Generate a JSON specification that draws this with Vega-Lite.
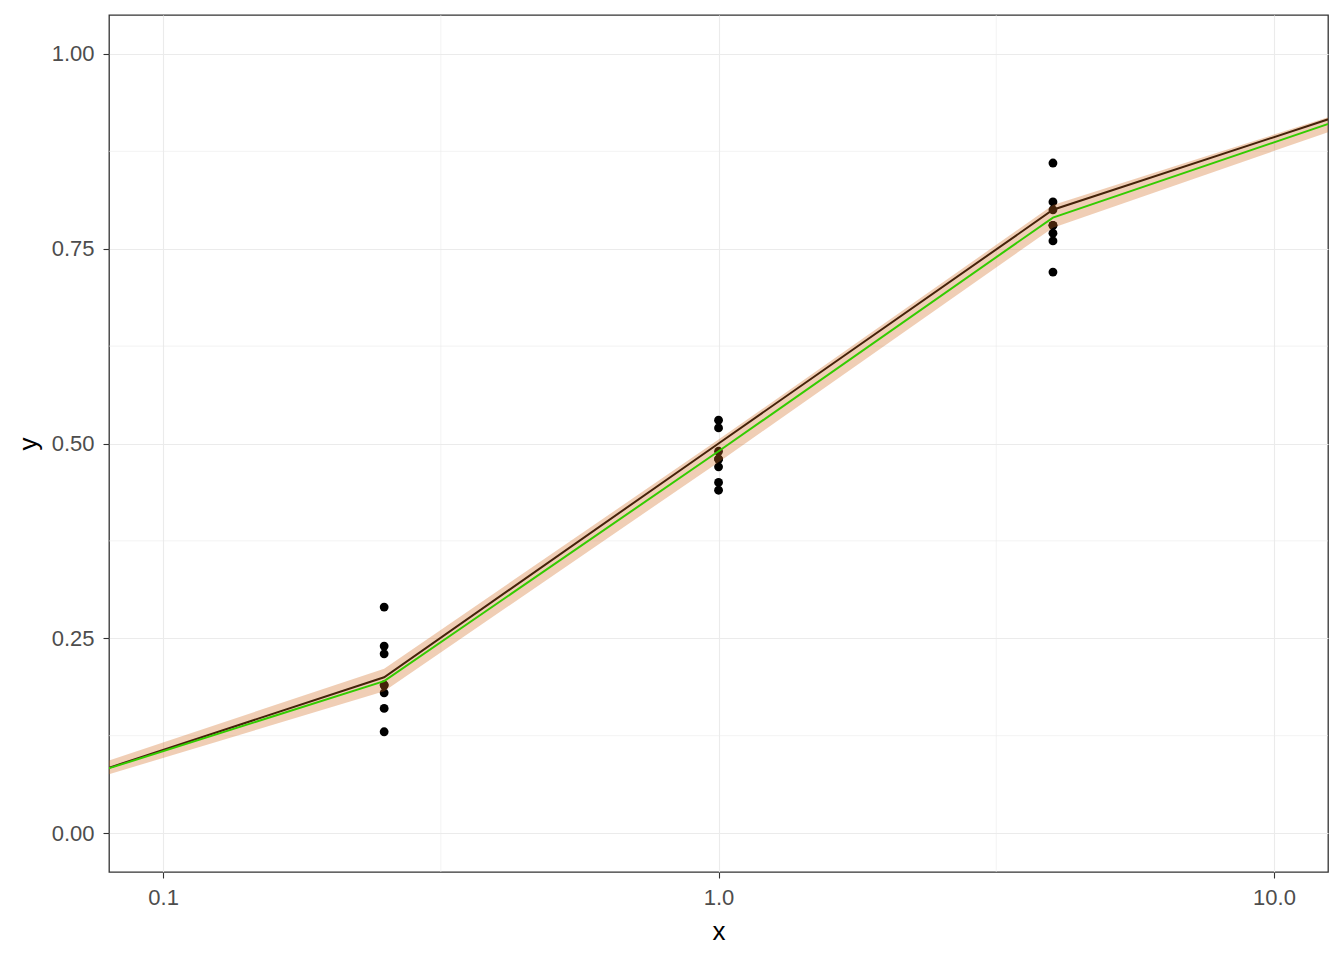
{
  "$schema": "https://vega.github.io/schema/vega-lite/v6.json",
  "width": 1219,
  "height": 857,
  "autosize": {"type": "none"},
  "padding": {"left": 109, "top": 15, "right": 16, "bottom": 88},
  "background": "white",
  "config": {
    "font": "Liberation Sans",
    "view": {"stroke": "#333333", "strokeWidth": 1.3},
    "axis": {
      "domain": false,
      "grid": true,
      "gridColor": "#EBEBEB",
      "gridWidth": 1.1,
      "tickColor": "#333333",
      "tickSize": 6,
      "tickWidth": 1.1,
      "labelColor": "#4D4D4D",
      "labelFontSize": 22,
      "labelFont": "Liberation Sans",
      "titleFont": "Liberation Sans",
      "titleFontSize": 26,
      "titleFontWeight": "normal",
      "titleColor": "black",
      "labelPadding": 9
    }
  },
  "datasets": {
    "pts": [
      {"x": 0.25, "y": 0.29}, {"x": 0.25, "y": 0.24}, {"x": 0.25, "y": 0.23}, {"x": 0.25, "y": 0.19},
      {"x": 0.25, "y": 0.19}, {"x": 0.25, "y": 0.18}, {"x": 0.25, "y": 0.16}, {"x": 0.25, "y": 0.13},
      {"x": 1, "y": 0.53}, {"x": 1, "y": 0.52}, {"x": 1, "y": 0.49}, {"x": 1, "y": 0.48},
      {"x": 1, "y": 0.47}, {"x": 1, "y": 0.45}, {"x": 1, "y": 0.44}, {"x": 1, "y": 0.48},
      {"x": 4, "y": 0.86}, {"x": 4, "y": 0.81}, {"x": 4, "y": 0.80}, {"x": 4, "y": 0.78},
      {"x": 4, "y": 0.77}, {"x": 4, "y": 0.76}, {"x": 4, "y": 0.72}, {"x": 4, "y": 0.78}
    ],
    "curve": [
      {"x": 0.0625, "black": 0.0588, "green": 0.059, "lo": 0.0525, "hi": 0.0678},
      {"x": 0.25, "black": 0.2, "green": 0.195, "lo": 0.182, "hi": 0.211},
      {"x": 1, "black": 0.5, "green": 0.49, "lo": 0.476, "hi": 0.505},
      {"x": 4, "black": 0.8, "green": 0.79, "lo": 0.777, "hi": 0.806},
      {"x": 16, "black": 0.941, "green": 0.936, "lo": 0.926, "hi": 0.943}
    ],
    "xminor": [{"v": 0.3162}, {"v": 3.162}],
    "yminor": [{"v": 0.125}, {"v": 0.375}, {"v": 0.625}, {"v": 0.875}]
  },
  "layer": [
    {
      "data": {"name": "xminor"},
      "mark": {"type": "rule", "color": "#EBEBEB", "strokeWidth": 0.6},
      "encoding": {"x": {"field": "v", "type": "quantitative"}}
    },
    {
      "data": {"name": "yminor"},
      "mark": {"type": "rule", "color": "#EBEBEB", "strokeWidth": 0.6},
      "encoding": {"y": {"field": "v", "type": "quantitative"}}
    },
    {
      "data": {"name": "pts"},
      "mark": {"type": "circle", "color": "black", "opacity": 1, "size": 78},
      "encoding": {
        "x": {
          "field": "x", "type": "quantitative",
          "scale": {"type": "log", "domain": [0.0799, 12.51], "nice": false},
          "axis": {"values": [0.1, 1, 10], "title": "x", "labelExpr": "datum.value < 0.5 ? '0.1' : format(datum.value, '.1f')", "titlePadding": 10}
        },
        "y": {
          "field": "y", "type": "quantitative",
          "scale": {"domain": [-0.05, 1.05], "nice": false, "zero": false},
          "axis": {"values": [0, 0.25, 0.5, 0.75, 1], "format": ".2f", "title": "y", "titlePadding": 10}
        }
      }
    },
    {
      "data": {"name": "curve"},
      "mark": {"type": "line", "color": "black", "strokeWidth": 2, "clip": true},
      "encoding": {
        "x": {"field": "x", "type": "quantitative"},
        "y": {"field": "black", "type": "quantitative"}
      }
    },
    {
      "data": {"name": "curve"},
      "mark": {"type": "area", "color": "#D2691E", "opacity": 0.33, "clip": true},
      "encoding": {
        "x": {"field": "x", "type": "quantitative"},
        "y": {"field": "lo", "type": "quantitative"},
        "y2": {"field": "hi"}
      }
    },
    {
      "data": {"name": "curve"},
      "mark": {"type": "line", "color": "#33CC00", "strokeWidth": 2, "clip": true},
      "encoding": {
        "x": {"field": "x", "type": "quantitative"},
        "y": {"field": "green", "type": "quantitative"}
      }
    }
  ]
}
